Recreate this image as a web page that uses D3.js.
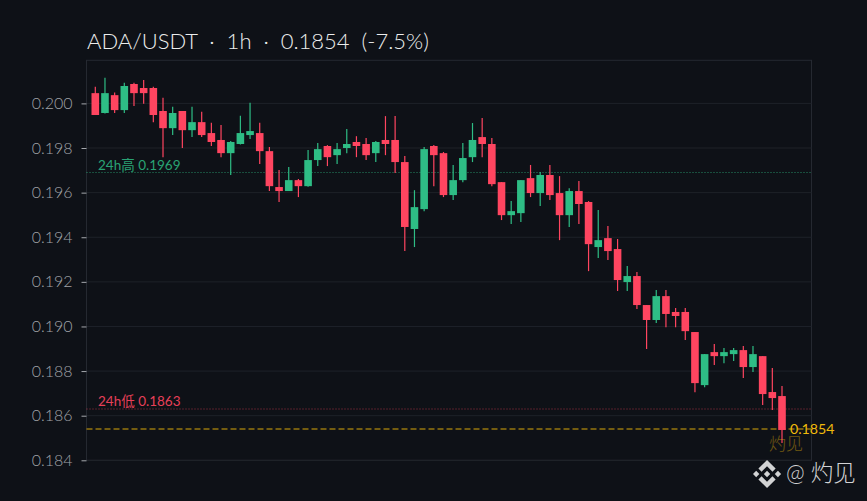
<!DOCTYPE html>
<html>
<head>
<meta charset="utf-8">
<script src="https://d3js.org/d3.v7.min.js"></script>
<style>
  html, body { margin: 0; padding: 0; background: #0e1117; }
  svg { display: block; }
  text { font-family: Lato, "Noto Sans CJK SC", sans-serif; font-weight: 300; }
</style>
</head>
<body>
<svg width="867" height="501"></svg>
<script>
// candles, one entry per hour
const opens = [0.20046,0.19957,0.20037,0.19970,0.20087,0.20069,0.20069,0.19966,0.19889,0.19966,0.19880,0.19916,0.19867,0.19836,0.19777,0.19818,0.19858,0.19867,
  0.19786,0.19625,0.19607,0.19656,0.19629,0.19746,0.19809,0.19768,0.19800,0.19827,0.19818,0.19777,0.19836,0.19836,0.19737,0.19437,0.19526,0.19809,
  0.19777,0.19589,0.19656,0.19759,0.19849,0.19818,0.19647,0.19499,0.19508,0.19665,0.19598,0.19679,0.19598,0.19499,0.19607,0.19558,0.19356,0.19396,
  0.19347,0.19199,0.19226,0.19096,0.19029,0.19136,0.19065,0.19065,0.18975,0.18737,0.18885,0.18867,0.18876,0.18894,0.18818,0.18867,0.18706,0.18688];
const highs = [0.20075,0.20115,0.20049,0.20093,0.20093,0.20105,0.20075,0.20025,0.19985,0.19966,0.19985,0.19963,0.19913,0.19903,0.19831,0.19945,0.20003,0.19913,
  0.19804,0.19701,0.19715,0.19661,0.19791,0.19822,0.19813,0.19822,0.19885,0.19853,0.19845,0.19831,0.19943,0.19943,0.19764,0.19611,0.19804,0.19813,
  0.19782,0.19724,0.19822,0.19912,0.19934,0.19845,0.19647,0.19562,0.19656,0.19724,0.19692,0.19724,0.19674,0.19620,0.19652,0.19562,0.19522,0.19450,
  0.19392,0.19271,0.19244,0.19096,0.19163,0.19163,0.19083,0.19083,0.18975,0.18876,0.18921,0.18903,0.18903,0.18912,0.18912,0.18867,0.18814,0.18733];
const lows = [0.19948,0.19955,0.19957,0.19957,0.19988,0.19998,0.19916,0.19759,0.19858,0.19800,0.19849,0.19849,0.19809,0.19759,0.19679,0.19816,0.19840,0.19728,
  0.19607,0.19558,0.19607,0.19580,0.19626,0.19719,0.19719,0.19728,0.19777,0.19759,0.19746,0.19737,0.19768,0.19688,0.19338,0.19356,0.19517,0.19629,
  0.19580,0.19567,0.19647,0.19737,0.19759,0.19629,0.19477,0.19459,0.19468,0.19580,0.19540,0.19567,0.19387,0.19446,0.19459,0.19248,0.19307,0.19298,
  0.19159,0.19159,0.19078,0.18899,0.19015,0.18997,0.18997,0.18939,0.18705,0.18728,0.18827,0.18835,0.18845,0.18769,0.18796,0.18648,0.18625,0.18477];
const closes = [0.19948,0.20046,0.19970,0.20078,0.20046,0.20046,0.19948,0.19889,0.19957,0.19880,0.19916,0.19858,0.19827,0.19777,0.19827,0.19867,0.19876,0.19786,
  0.19629,0.19607,0.19656,0.19629,0.19746,0.19795,0.19759,0.19795,0.19818,0.19809,0.19768,0.19827,0.19818,0.19737,0.19446,0.19535,0.19795,0.19768,
  0.19589,0.19656,0.19755,0.19836,0.19818,0.19638,0.19499,0.19517,0.19656,0.19598,0.19679,0.19589,0.19499,0.19607,0.19549,0.19369,0.19387,0.19338,
  0.19208,0.19226,0.19096,0.19029,0.19136,0.19056,0.19047,0.18979,0.18746,0.18876,0.18867,0.18885,0.18894,0.18818,0.18876,0.18697,0.18679,0.18536];

const yTicks = [0.184,0.186,0.188,0.190,0.192,0.194,0.196,0.198,0.200];
const high24h = 0.1969, low24h = 0.1863, lastPrice = 0.1854;

const titleText = 'ADA/USDT  ·  1h  ·  0.1854  (-7.5%)';
const green = '#2ebd85', red = '#ff4560', gold = '#f0b90b';

const svg = d3.select('svg');
const plotL = 86.5, plotR = 811.5, plotT = 60.3, plotB = 460.3;

const x = d3.scaleLinear().domain([0, 71]).range([95.3, 782]);
const y = d3.scaleLinear().domain([0.184, 0.200]).range([plotB, 103.4]);
const idx = d3.range(opens.length);

// frame and grid
svg.append('rect')
    .attr('x', plotL).attr('y', plotT)
    .attr('width', plotR - plotL).attr('height', plotB - plotT)
    .attr('fill', 'none').attr('stroke', '#252931').attr('stroke-width', 1);

svg.append('g').selectAll('line')
    .data(yTicks)
    .enter().append('line')
    .attr('x1', plotL).attr('x2', plotR)
    .attr('y1', d => y(d)).attr('y2', d => y(d))
    .attr('stroke', '#1e2229').attr('stroke-width', 1);

const yAxis = svg.append('g')
    .attr('transform', `translate(${plotL},0)`)
    .call(d3.axisLeft(y).tickValues(yTicks).tickFormat(d3.format('.3f')).tickSize(5).tickPadding(9));
yAxis.select('.domain').remove();
yAxis.selectAll('line').attr('stroke', '#a5a8ad').attr('stroke-width', 1);
yAxis.selectAll('text').attr('fill', '#a0a3a8').style('font-size', '16px');

// reference lines
const hline = (v, color, dash, opacity) => svg.append('line')
    .attr('x1', plotL).attr('x2', plotR)
    .attr('y1', y(v)).attr('y2', y(v))
    .attr('stroke', color).attr('stroke-width', 1.1)
    .attr('stroke-dasharray', dash).attr('opacity', opacity);
hline(high24h, green, '1,2', 0.7);
hline(low24h, red, '1,2', 0.6);
hline(lastPrice, gold, '6,3', 0.9);

// candles
const color = i => closes[i] >= opens[i] ? green : red;
svg.append('g').selectAll('line')
    .data(idx)
    .enter().append('line')
    .attr('x1', i => x(i)).attr('x2', i => x(i))
    .attr('y1', i => y(highs[i])).attr('y2', i => y(lows[i]))
    .attr('stroke', color).attr('stroke-width', 1.2);

svg.append('g').selectAll('rect')
    .data(idx)
    .enter().append('rect')
    .attr('x', i => x(i) - 3.8)
    .attr('width', 7.6)
    .attr('y', i => y(Math.max(opens[i], closes[i])))
    .attr('height', i => Math.abs(y(opens[i]) - y(closes[i])))
    .attr('fill', color);

// text
svg.append('text')
    .attr('x', 87).attr('y', 49)
    .attr('fill', '#eceded')
    .style('font-size', '22px').style('white-space', 'pre')
    .text(titleText);

svg.append('text')
    .attr('x', 98).attr('y', y(high24h) - 3)
    .attr('fill', green).attr('opacity', 0.85)
    .style('font-size', '13.5px').style('font-weight', 400)
    .text('24h高 ' + high24h.toFixed(4));
svg.append('text')
    .attr('x', 98).attr('y', y(low24h) - 2.5)
    .attr('fill', red).attr('opacity', 0.9)
    .style('font-size', '13.5px').style('font-weight', 400)
    .text('24h低 ' + low24h.toFixed(4));
svg.append('text')
    .attr('x', 790).attr('y', y(lastPrice) + 5)
    .attr('fill', gold)
    .style('font-size', '14.2px').style('font-weight', 400)
    .text(lastPrice.toFixed(4));

svg.append('text')
    .attr('x', 769).attr('y', 450)
    .attr('fill', gold).attr('opacity', 0.42).style('font-size', '17px')
    .text('灼见');

// watermark
const logo = svg.append('g')
    .attr('transform', 'translate(753,460) scale(0.2215)')
    .attr('fill', '#d2d3d4');
['M38.73 53.2l24.59-24.58 24.6 24.6 14.3-14.31L63.32 0 24.42 38.9z',
 'M0 63.31l14.3-14.31 14.31 14.31-14.31 14.3z',
 'M38.73 73.41l24.59 24.59 24.6-24.6 14.31 14.29-38.9 38.91-38.91-38.88v-.03z',
 'M98.28 63.31l14.3-14.31 14.31 14.3-14.31 14.32z',
 'M77.83 63.3L63.32 48.78 52.59 59.51l-1.24 1.23-2.54 2.54 14.51 14.5 14.51-14.47z'
].forEach(d => logo.append('path').attr('d', d));

svg.append('text')
    .attr('x', 786).attr('y', 481)
    .attr('fill', '#d2d3d4').style('font-size', '22.5px').style('white-space', 'pre')
    .text('@ 灼见');
</script>
</body>
</html>
